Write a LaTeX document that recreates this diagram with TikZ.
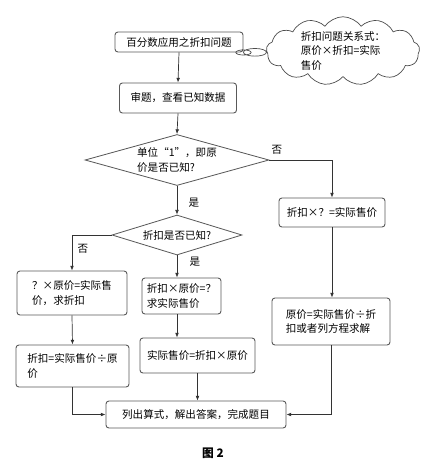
\documentclass[tikz,border=0pt]{standalone}
\usepackage{fontspec}
\setmainfont{Noto Sans CJK SC}
\usepackage{tikz}
\usetikzlibrary{shapes.geometric, shapes.callouts, arrows.meta}

\tikzset{
    flowbox/.style={draw=black!65, line width=0.8pt, rounded corners=2.5pt, align=left, inner sep=2pt},
    choice/.style={diamond, draw=black!65, line width=0.7pt, inner sep=0pt, align=left},
    flow/.style={draw=black!80, line width=0.6pt, -{Latex[length=4pt,width=3.2pt]}},
    every node/.style={font=\fontsize{9}{12.5}\selectfont}
}

\begin{document}
\begin{tikzpicture}[x=0.03cm, y=-0.03cm]
    \useasboundingbox (0,0) rectangle (425,467);

    % Blocchi
    \node[flowbox, minimum width=3.84cm, minimum height=0.6cm] (start) at (179,42) {百分数应用之折扣问题};
    \node[cloud callout, draw=black!70, line width=0.6pt, cloud puffs=13, cloud puff arc=110,
          cloud ignores aspect, minimum width=4.6cm, minimum height=1.9cm, inner sep=0pt,
          align=left, callout absolute pointer={(start.south east)}] (rule) at (343,51)
          {折扣问题关系式：\\原价×折扣=实际\\售价};
    \node[flowbox, minimum width=3.51cm, minimum height=0.9cm] (read) at (178,98) {审题，查看已知数据};
    \node[choice, aspect=3.6, minimum width=5.52cm, minimum height=1.53cm] (askone) at (177,160) {单位“1”，即原\\价是否已知?};
    \node[choice, aspect=3.25, minimum width=3.9cm, minimum height=1.2cm] (askrate) at (177,235) {折扣是否已知?};
    \node[flowbox, minimum width=3.3cm, minimum height=1.32cm] (findrate) at (72,293) {？×原价=实际售\\价，求折扣};
    \node[flowbox, minimum width=3.39cm, minimum height=1.26cm] (rateeq) at (72.5,366) {折扣=实际售价÷原\\价};
    \node[flowbox, minimum width=2.37cm, minimum height=1.08cm] (findsale) at (181.5,296) {折扣×原价=？\\求实际售价};
    \node[flowbox, minimum width=3.45cm, minimum height=1.05cm] (saleeq) at (197.5,355.5) {实际售价=折扣×原价};
    \node[flowbox, minimum width=3.18cm, minimum height=0.87cm] (findbase) at (332,212.5) {折扣×？=实际售价};
    \node[flowbox, minimum width=3.54cm, minimum height=1.41cm] (baseeq) at (331,321.5) {原价=实际售价÷折\\扣或者列方程求解};
    \node[flowbox, minimum width=5.4cm, minimum height=0.81cm] (solve) at (196,414.5) {列出算式，解出答案，完成题目};

    % Etichette
    \node (noone) at (277,150) {否};
    \node (yesone) at (194,203) {是};
    \node (norate) at (83,249) {否};
    \node (yesrate) at (195,262) {是};
    \node[font=\fontsize{10}{12}\selectfont\bfseries] (caption) at (213,453) {图 2};

    % Frecce
    \draw[flow] (start.south) -- (read.north);
    \draw[flow] (read.south) -- (askone.north);
    \draw[flow] (askone.east) -| (findbase.north);
    \draw[flow] (askone.south) -- (askrate.north);
    \draw[flow] (askrate.west) -| (findrate.north);
    \draw[flow] (askrate.south) -- (askrate.south |- findsale.north);
    \draw[flow] (findrate.south) -- (rateeq.north);
    \draw[flow] (askrate.south |- findsale.south) -- (askrate.south |- saleeq.north);
    \draw[flow] (saleeq.south) -- (saleeq.south |- solve.north);
    \draw[flow] (findbase.south) -- (findbase.south |- baseeq.north);
    \draw[flow] (rateeq.south) |- (solve.west);
    \draw[flow] (baseeq.south) |- (solve.east);
\end{tikzpicture}
\end{document}
